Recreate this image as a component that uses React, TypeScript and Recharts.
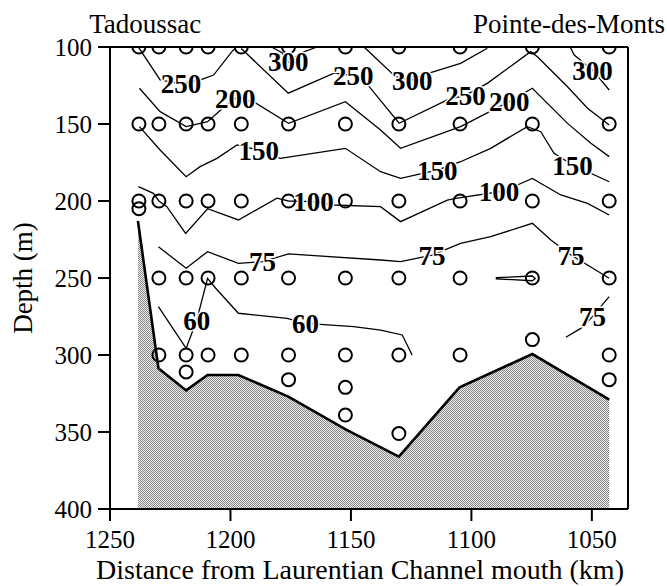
import React from 'react';
import { ComposedChart, XAxis, YAxis, Line, Area, Scatter, ReferenceDot } from 'recharts';

const FONT = '"Liberation Serif", "Times New Roman", Times, serif';

const xTicks = [1250, 1200, 1150, 1100, 1050];
const yTicks = [100, 150, 200, 250, 300, 350, 400];

// sampling stations (km) and the depths sampled at each
const stationKm = [1238, 1229.7, 1218.4, 1209.3, 1195.5, 1175.9, 1152.3, 1130.1, 1104.7, 1074.7, 1042.8];
const sampleDepths: number[][] = [
  [100, 150, 200, 205],
  [100, 150, 200, 250, 300],
  [100, 150, 200, 250, 300, 311],
  [100, 150, 200, 250, 300],
  [100, 150, 200, 250, 300],
  [100, 150, 200, 250, 300, 316],
  [100, 150, 200, 250, 300, 321, 339],
  [100, 150, 200, 250, 300, 351],
  [100, 150, 200, 250, 300],
  [100, 150, 200, 250, 290],
  [100, 150, 200, 250, 300, 316],
];

// bottom topography
const bottomKm = [1238.4, 1229.9, 1218.4, 1209.5, 1196.7, 1176, 1152, 1130.1, 1104.9, 1074.7, 1042.8];
const bottomDepth = [213, 308.6, 323, 313, 313, 327, 348.5, 366, 321, 299.4, 329];

// contour lines [km, depth]
const c250a = [[1238, 100.5], [1229.2, 121.4], [1220.5, 124], [1211.9, 121], [1207, 118.2], [1199.4, 103], [1197.3, 99.5]];
const c300a = [[1183, 100], [1178.6, 103.7], [1176, 110], [1171, 104], [1164, 100]];
const c250b = [[1195.5, 101], [1176, 130], [1157, 117], [1149, 118.5], [1144.7, 121.4], [1130, 149.5], [1110, 134.4], [1102.4, 131.2], [1093.4, 123.6], [1075.4, 103], [1072.6, 106.3], [1060.1, 125.8], [1051.8, 139.8], [1042.8, 150.6]];
const c300b = [[1144.7, 99.8], [1131.5, 119.3], [1124.6, 121.4], [1116.9, 116.7], [1104.5, 110.6], [1093.4, 100.8]];
const c300c = [[1059, 100], [1057.3, 105.2], [1053.2, 110.6], [1049.7, 115], [1046.3, 121.4], [1042.8, 127.9]];
const c200 = [[1237.8, 126.8], [1229.2, 142], [1218.4, 151.7], [1209.5, 148.5], [1202.2, 138.3], [1198, 133.3], [1190.4, 135.5], [1175.9, 149.6], [1152.3, 135.5], [1137.7, 153.9], [1129.4, 165.8], [1104.5, 151.7], [1084.3, 135.5], [1074.7, 126.8], [1060.1, 149.6], [1050.4, 162.5], [1042.8, 171.2]];
const c150 = [[1237.8, 151.7], [1229.2, 166.9], [1218.4, 184.2], [1212.6, 177.7], [1205.6, 172.3], [1197.3, 163.6], [1188.3, 167], [1179.3, 172.3], [1152.3, 165.8], [1137.7, 181], [1129.4, 185.3], [1114.2, 179.9], [1104.5, 174.5], [1092, 165.8], [1076.8, 151.7], [1071.2, 155], [1065.7, 169], [1058, 176.6], [1042.8, 187.5]];
const c100 = [[1238.2, 190.7], [1232, 195], [1229.7, 200], [1226.4, 203.7], [1218.6, 221], [1209.5, 205], [1196.7, 212.3], [1180.7, 198.2], [1175.9, 200], [1165.5, 200.4], [1157.1, 202.6], [1137.7, 203.7], [1129.4, 213.4], [1110, 199.4], [1105.8, 198.2], [1088.5, 194], [1080.9, 189.6], [1074.7, 185.3], [1062.9, 196.1], [1051.8, 201.5], [1042.8, 209.1]];
const c75a = [[1229.9, 229.7], [1218.4, 243.7], [1209.5, 232.9], [1196.7, 240.5], [1186.7, 239.4], [1175.9, 234.4], [1137.7, 238.3], [1129.4, 239.4], [1116.3, 235.1], [1104.5, 227.5], [1092, 223.2], [1074.7, 214.5], [1067, 225.3], [1058.7, 235.1], [1051.8, 241.6], [1042.8, 250.2]];
const c75spike = [[1089.9, 249.8], [1074.7, 248.7], [1073.5, 250.3], [1074.7, 251.8], [1089.9, 250.5]];
const c75b = [[1042.8, 262.1], [1046.3, 268.6], [1049.7, 275.1], [1054.6, 282.7], [1060.8, 288.5]];
const c60 = [[1229.9, 268.6], [1218.4, 295.7], [1214, 277.3], [1209.5, 250.2], [1206.5, 256], [1196.7, 272.9], [1176.5, 276.2], [1168.9, 279.4], [1148.8, 281.6], [1137.7, 283.8], [1128.7, 287], [1124.6, 300]];

const contours = [c250a, c300a, c250b, c300b, c300c, c200, c150, c100, c75a, c75spike, c75b, c60];

const labelKm = [1220.5, 1176, 1149, 1124.6, 1102.4, 1049.7, 1198, 1084.3, 1188.3, 1114.2, 1058, 1165.5, 1088.5, 1186.7, 1116.3, 1058.7, 1049.7, 1214, 1168.9];
const labelDepth = [123.6, 109.5, 118.2, 121.4, 131.2, 115, 133.3, 135.5, 167, 179.9, 176.6, 200.4, 194, 239.4, 235.1, 235.1, 275.1, 277.3, 279.4];
const labelText = ['250', '300', '250', '300', '250', '300', '200', '200', '150', '150', '150', '100', '100', '75', '75', '75', '75', '60', '60'];

const toPts = (arr: number[][]) => arr.map(([km, d]) => ({ km, d }));

const css = `
.chart-root, .chart-root svg text, .chart-root .recharts-text { font-family: "Liberation Serif", "Times New Roman", Times, serif !important; }
`;

export default function App() {
  const circles = stationKm.flatMap((km, i) => sampleDepths[i].map((d) => ({ km, d })));
  const bottom = bottomKm.map((km, i) => ({ km, d: bottomDepth[i] }));
  const labels = labelKm.map((km, i) => ({ km, d: labelDepth[i], text: labelText[i] }));
  const axisStroke = { stroke: '#000', strokeWidth: 2 };
  return (
    <div className="chart-root" style={{ position: 'absolute', left: 0, top: 0, fontFamily: FONT }}>
      <style>{css}</style>
      <ComposedChart width={667} height={586} margin={{ top: 0, right: 0, bottom: 0, left: 0 }} style={{ fontFamily: FONT }}>
        <defs>
          <pattern id="stipple" width="2" height="2" patternUnits="userSpaceOnUse">
            <rect width="2" height="2" fill="#ececec" />
            <rect width="1" height="1" fill="#8a8a8a" />
            <rect x="1" y="1" width="1" height="1" fill="#8a8a8a" />
          </pattern>
        </defs>
        <XAxis
          dataKey="km"
          type="number"
          domain={[1035, 1250]}
          reversed
          allowDataOverflow
          ticks={xTicks}
          height={77}
          tickSize={12}
          tickMargin={9}
          axisLine={axisStroke}
          tickLine={axisStroke}
          tick={{ fill: '#000', fontSize: 25, fontFamily: FONT }}
          label={{ value: 'Distance from Laurentian Channel mouth (km)', position: 'insideBottom', offset: 7.5, dx: -9, fill: '#000', fontSize: 28, fontFamily: FONT }}
        />
        <XAxis
          xAxisId="top"
          orientation="top"
          dataKey="km"
          type="number"
          domain={[1035, 1250]}
          reversed
          allowDataOverflow
          ticks={xTicks}
          height={47}
          tickSize={12}
          axisLine={axisStroke}
          tickLine={axisStroke}
          tick={false}
        />
        <YAxis
          dataKey="d"
          type="number"
          domain={[100, 400]}
          reversed
          allowDataOverflow
          ticks={yTicks}
          width={110}
          tickSize={12}
          tickMargin={6}
          axisLine={axisStroke}
          tickLine={axisStroke}
          tick={{ fill: '#000', fontSize: 25, fontFamily: FONT }}
          label={{ value: 'Depth (m)', angle: -90, position: 'insideLeft', offset: 22, fill: '#000', fontSize: 27, fontFamily: FONT, style: { textAnchor: 'middle' } }}
        />
        <YAxis
          yAxisId="right"
          orientation="right"
          dataKey="d"
          type="number"
          domain={[100, 400]}
          reversed
          allowDataOverflow
          ticks={yTicks}
          width={39}
          tickSize={12}
          axisLine={axisStroke}
          tickLine={axisStroke}
          tick={false}
        />
        <Scatter
          data={circles}
          dataKey="d"
          isAnimationActive={false}
          shape={(p: any) => <circle cx={p.cx} cy={p.cy} r={6.5} fill="none" stroke="#000" strokeWidth={2} />}
        />
        <Area
          data={bottom}
          dataKey="d"
          type="linear"
          baseValue={400}
          fill="url(#stipple)"
          fillOpacity={1}
          stroke="#000"
          strokeWidth={2.6}
          dot={false}
          activeDot={false}
          isAnimationActive={false}
        />
        {contours.map((c, i) => (
          <Line
            key={i}
            data={toPts(c)}
            dataKey="d"
            type="linear"
            dot={false}
            activeDot={false}
            stroke="#000"
            strokeWidth={1.3}
            isAnimationActive={false}
          />
        ))}
        <Scatter
          data={labels}
          dataKey="d"
          isAnimationActive={false}
          shape={(p: any) => (
            <text
              x={p.cx}
              y={p.cy}
              dy="0.36em"
              textAnchor="middle"
              fontFamily={FONT}
              fontWeight="bold"
              fontSize={27}
              fill="#000"
              stroke="#fff"
              strokeWidth={3}
              paintOrder="stroke"
            >
              {p.payload.text}
            </text>
          )}
        />
        <ReferenceDot x={1235.4} y={100} r={0.01} fill="none" stroke="none" ifOverflow="visible"
          label={{ value: 'Tadoussac', position: 'top', offset: 14, fill: '#000', fontSize: 27, fontFamily: FONT }} />
        <ReferenceDot x={1059.5} y={100} r={0.01} fill="none" stroke="none" ifOverflow="visible"
          label={{ value: 'Pointe-des-Monts', position: 'top', offset: 14, fill: '#000', fontSize: 27, fontFamily: FONT }} />
      </ComposedChart>
    </div>
  );
}
